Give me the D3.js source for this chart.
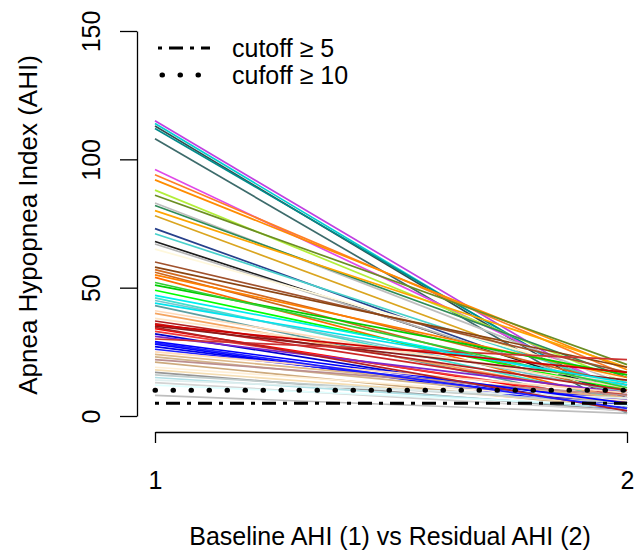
<!DOCTYPE html>
<html>
<head>
<meta charset="utf-8">
<script src="https://cdn.jsdelivr.net/npm/d3@7/dist/d3.min.js"></script>
<style>
  body { margin: 0; background: #fff; }
  svg text { font-family: "Liberation Sans", Arial, sans-serif; fill: #000; }
</style>
</head>
<body>
<svg id="chart" width="640" height="560"></svg>
<script>
// baseline AHI (x = 1) and residual AHI (x = 2) per patient
var baseline = [115, 114, 113, 112, 108, 96, 94, 92, 88, 86, 83, 82, 80, 78,
  73, 71, 68, 67, 65, 60, 58, 57, 56, 55, 54, 51, 49, 47, 46, 45, 43, 41, 40,
  38, 37, 36, 35, 34, 33, 32, 31, 30, 28, 27, 26, 24, 23, 22, 21, 19, 18, 17,
  16, 15, 14, 13, 12, 8, 52, 44, 35.5, 29, 25, 34.5, 28.5];
var residual = [6, 4, 3, 5, 1, 9, 16, 18, 13, 20, 12, 15, 19, 10,
  7, 11, 8, 9, 14, 17, 19, 12, 8, 15, 5, 16, 10, 12, 6, 9, 4, 11, 7,
  13, 10, 8, 14, 5, 6, 3, 9, 22, 2, 4, 6, 7, 5, 8, 3, 6, 4, 2,
  5, 3, 7, 2, 4, 1, 11, 13, 17, 5, 9, 2, 3];
var colours = ["#C040E0", "#00CED1", "#2F4F4F", "#008B8B", "#3D6B6B", "#E04AE8",
  "#FF7F24", "#FF8C00", "#B3EE3A", "#6B8E23", "#BEBEBE", "#2E8B57", "#FFA500",
  "#DAA520", "#27408B", "#48D1CC", "#1C1C1C", "#B5B5B5", "#FFF8DC", "#A0522D",
  "#8B4513", "#D2691E", "#CD661D", "#FF7F00", "#FF6A00", "#00CD00", "#00FF00",
  "#00EEEE", "#40E0D0", "#7AC5CD", "#5F9EA0", "#FFDAB9", "#F4A460", "#FFE4C4",
  "#B22222", "#CD2626", "#8B1A1A", "#FF0000", "#EE3B3B", "#0000CD", "#7D26CD",
  "#CD3333", "#0000FF", "#0000EE", "#1E1EFF", "#DEB887", "#D2B48C", "#BC8F8F",
  "#CDAA7D", "#FFEFD5", "#F5DEB3", "#969696", "#C1CDCD", "#B0E0E6", "#E0EEEE",
  "#D3D3D3", "#E0FFFF", "#BEBEBE", "#32CD32", "#00E5EE", "#CD0000", "#0000FF",
  "#FFDAB9", "#B22222", "#1C1CFF"];

var cutoffs = [5, 10];
var cutoffLabels = ["cutoff \u2265 5", "cufoff \u2265 10"];
var cutoffDash = ["4 7 14 7", "0.5 17.5"];
var cutoffWidth = [3, 5];

var yTicks = [0, 50, 100, 150];
var xTicks = [1, 2];

var svg = d3.select("#chart");

var x = d3.scaleLinear().domain([1, 2]).range([155, 627]);
var y = d3.scaleLinear().domain([0, 150]).range([416, 31]);

var line = d3.line()
  .x(function (d) { return x(d[0]); })
  .y(function (d) { return y(d[1]); });

// patient lines
svg.append("g")
  .selectAll("path")
  .data(baseline.map(function (b, i) { return [[1, b], [2, residual[i]]]; }))
  .enter()
  .append("path")
  .attr("d", line)
  .attr("fill", "none")
  .attr("stroke", function (d, i) { return colours[i]; })
  .attr("stroke-width", 1.7);

// cutoff lines
svg.append("g")
  .selectAll("path")
  .data(cutoffs)
  .enter()
  .append("path")
  .attr("d", function (c) { return line([[1, c], [2, c]]); })
  .attr("fill", "none")
  .attr("stroke", "#000")
  .attr("stroke-width", function (c, i) { return cutoffWidth[i]; })
  .attr("stroke-linecap", function (c, i) { return i == 1 ? "round" : "butt"; })
  .attr("stroke-dasharray", function (c, i) { return cutoffDash[i]; });

// y axis
var yAxis = svg.append("g")
  .attr("transform", "translate(137,0)")
  .call(d3.axisLeft(y).tickValues(yTicks).tickSize(17).tickSizeOuter(0).tickFormat(d3.format("d")));
yAxis.selectAll("path, line").attr("stroke", "#000").attr("stroke-width", 1.3);
yAxis.selectAll("text")
  .attr("font-size", 25)
  .attr("x", 0)
  .attr("dy", null)
  .attr("text-anchor", "middle")
  .attr("transform", "translate(-37,0) rotate(-90)");

// x axis
var xAxis = svg.append("g")
  .attr("transform", "translate(0,432)")
  .call(d3.axisBottom(x).tickValues(xTicks).tickSize(11).tickSizeOuter(0).tickFormat(d3.format("d")));
xAxis.selectAll("path, line").attr("stroke", "#000").attr("stroke-width", 1.3);
xAxis.selectAll("text")
  .attr("font-size", 25)
  .attr("y", 57)
  .attr("dy", null);

// axis titles
svg.append("text")
  .attr("x", 390)
  .attr("y", 545)
  .attr("text-anchor", "middle")
  .attr("font-size", 25)
  .text("Baseline AHI (1) vs Residual AHI (2)");

svg.append("text")
  .attr("transform", "translate(37,225) rotate(-90)")
  .attr("text-anchor", "middle")
  .attr("font-size", 26)
  .text("Apnea Hypopnea Index (AHI)");

// legend
var legend = svg.append("g")
  .selectAll("g")
  .data(cutoffs)
  .enter()
  .append("g")
  .attr("transform", function (c, i) { return "translate(0," + (48 + i * 27) + ")"; });
legend.append("line")
  .attr("x1", 158).attr("x2", 210)
  .attr("stroke", "#000")
  .attr("stroke-width", function (c, i) { return cutoffWidth[i]; })
  .attr("stroke-linecap", function (c, i) { return i == 1 ? "round" : "butt"; })
  .attr("stroke-dasharray", function (c, i) { return cutoffDash[i]; })
  .attr("stroke-dashoffset", function (c, i) { return i == 1 ? -4 : 0; });
legend.append("text")
  .attr("x", 232)
  .attr("y", 9)
  .attr("font-size", 25)
  .text(function (c, i) { return cutoffLabels[i]; });
</script>
</body>
</html>
